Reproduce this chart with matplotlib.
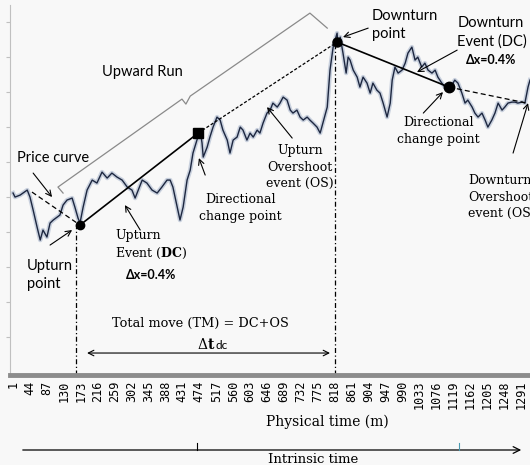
import numpy as np
import matplotlib
matplotlib.use('Agg')
import matplotlib.pyplot as plt

plt.rcParams['font.family'] = ['Lato', 'DejaVu Sans']
plt.rcParams['mathtext.fontset'] = 'dejavuserif'

# Fiyat egrisi (dakika, fiyat)
minutes = [1, 6, 19, 37, 44, 52, 62, 70, 77, 87,
           95, 103, 113, 120, 128, 138, 151, 158, 166, 171,
           179, 189, 202, 214, 227, 240, 252, 265, 278, 291,
           303, 311, 319, 329, 341, 354, 367, 379, 392, 400,
           407, 418, 425, 433, 443, 451, 458, 468, 476, 481,
           484, 494, 501, 509, 519, 527, 534, 545, 552, 560,
           570, 578, 585, 595, 603, 611, 621, 628, 636, 646,
           654, 661, 672, 679, 687, 697, 705, 712, 722, 730,
           738, 748, 755, 763, 773, 781, 788, 799, 806, 814,
           824, 826, 832, 839, 847, 852, 857, 865, 875, 882,
           890, 900, 908, 915, 925, 933, 941, 951, 959, 964,
           971, 979, 989, 997, 1004, 1014, 1022, 1029, 1039, 1047,
           1055, 1065, 1073, 1080, 1090, 1098, 1111, 1123, 1131, 1141,
           1149, 1156, 1167, 1174, 1182, 1192, 1200, 1207, 1217, 1225,
           1233, 1243, 1250, 1258, 1268, 1276, 1283, 1294, 1301, 1309,
           1314]
price = [182, 178, 180, 185, 178, 165, 148, 135, 145, 138,
         152, 155, 158, 160, 170, 175, 177, 168, 157, 152,
         168, 185, 195, 192, 203, 197, 202, 198, 195, 188,
         185, 177, 185, 195, 192, 185, 182, 188, 195, 195,
         188, 168, 155, 168, 195, 205, 222, 235, 245, 232,
         218, 228, 238, 248, 258, 255, 245, 235, 222, 235,
         238, 248, 245, 235, 242, 238, 245, 242, 252, 262,
         265, 272, 268, 272, 278, 275, 265, 262, 265, 258,
         255, 258, 255, 252, 248, 242, 252, 268, 305, 328,
         342, 332, 338, 322, 302, 318, 315, 305, 298, 288,
         298, 292, 282, 292, 285, 282, 272, 258, 272, 295,
         308, 302, 305, 312, 322, 328, 315, 318, 308, 312,
         305, 302, 305, 298, 292, 288, 287, 295, 292, 282,
         272, 275, 268, 262, 258, 262, 255, 248, 255, 262,
         272, 265, 268, 272, 273, 273, 272, 273, 272, 288,
         295]

# Olay noktalari
upturn_pt = (171, 150)
upturn_dc = (471, 242)
downturn_pt = (824, 333)
downturn_dc = (1108, 288)
prev_trend_start = (49, 183)
next_trend_end = (1306, 272)

# Eksen etiketleri
tick_labels = list(range(1, 1292, 43))

fig = plt.figure(figsize=(5.3, 4.65), dpi=100, facecolor='#f8f8f8')
ax = fig.add_axes([0.019, 0.1935, 0.981, 0.7955])
ax.set_facecolor('#f8f8f8')
ax.set_xlim(-6.6, 1314)
ax.set_ylim(0, 370)

# Fiyat egrisi (golgeli)
ax.plot(minutes, price, color='#a9b6cc', lw=3.2, alpha=0.6, solid_joinstyle='round')
ax.plot(minutes, price, color='#1d2740', lw=1.0)

# Trend cizgileri
k = 'black'
ax.plot([prev_trend_start[0], upturn_pt[0]], [prev_trend_start[1], upturn_pt[1]],
        color=k, lw=0.9, ls=(0, (4, 2.5)))
ax.plot([upturn_pt[0], upturn_dc[0]], [upturn_pt[1], upturn_dc[1]], color=k, lw=1.2)
ax.plot([upturn_dc[0], downturn_pt[0]], [upturn_dc[1], downturn_pt[1]],
        color=k, lw=0.9, ls=(0, (2.5, 1.5)))
ax.plot([downturn_pt[0], downturn_dc[0]], [downturn_pt[1], downturn_dc[1]], color=k, lw=1.2)
ax.plot([downturn_dc[0], next_trend_end[0]], [downturn_dc[1], next_trend_end[1]],
        color=k, lw=0.9, ls=(0, (4, 2.5)))

# Dikey kesikli cizgiler
ax.plot([160, 160], [0, upturn_pt[1]], color=k, lw=0.9, ls=(0, (4, 2, 1, 2)))
ax.plot([819, 819], [0, downturn_pt[1]], color=k, lw=0.9, ls=(0, (4, 2, 1, 2)))

# Noktalar
ax.plot(*upturn_pt, 'o', color=k, ms=6)
ax.plot(*upturn_dc, 's', color=k, ms=7)
ax.plot(*downturn_pt, 'o', color=k, ms=6.5)
ax.plot(*downturn_dc, 'o', color=k, ms=7.5)

# Upward Run parantezi
bx = [128, 115, 430, 440, 451, 755, 799]
by = [182, 188, 276, 271, 279, 362, 347]
ax.plot(bx, by, color='#8a8a8a', lw=0.9)

serif = 'DejaVu Serif'
arr = dict(arrowstyle='->', color=k, lw=0.8, shrinkA=0, shrinkB=0)

ax.text(329, 303, 'Upward Run', fontsize=10.5, ha='center', va='center')

ax.text(11, 217, 'Price curve', fontsize=10.5, ha='left', va='center')
ax.annotate('', xy=(100, 178), xytext=(52, 202), arrowprops=arr)

ax.text(37, 100, 'Upturn\npoint', fontsize=10.5, ha='left', va='center', linespacing=1.4)
ax.annotate('', xy=(151, 145), xytext=(95, 130), arrowprops=arr)

ax.text(260, 130, 'Upturn\nEvent ($\\mathbf{DC}$)', family=serif, fontsize=9,
        ha='left', va='center', linespacing=1.35)
ax.text(352, 100, '\u0394x=0.4%', fontsize=9, fontweight='bold', ha='center', va='center')
ax.annotate('', xy=(285, 170), xytext=(324, 145), arrowprops=arr)

ax.text(578, 167, 'Directional\nchange point', family=serif, fontsize=9,
        ha='center', va='center', linespacing=1.35)
ax.annotate('', xy=(473, 217), xytext=(489, 200), arrowprops=arr)

ax.text(730, 208, 'Upturn\nOvershoot\nevent (OS)', family=serif, fontsize=9,
        ha='center', va='center', linespacing=1.35)
ax.annotate('', xy=(646, 268), xytext=(710, 237), arrowprops=arr)

ax.text(476, 52, 'Total move (TM) = DC+OS', family=serif, fontsize=9.3,
        ha='center', va='center')
ax.text(514, 31, '\u0394$\\mathbf{t}$', family=serif, fontsize=10, ha='right', va='center')
ax.text(516, 30, 'dc', fontsize=8.5, ha='left', va='center')
ax.annotate('', xy=(189, 22), xytext=(806, 22),
            arrowprops=dict(arrowstyle='<->', color=k, lw=0.8, shrinkA=0, shrinkB=0))

ax.text(913, 350, 'Downturn\npoint', fontsize=10.5, ha='left', va='center', linespacing=1.4)
ax.annotate('', xy=(839, 338), xytext=(903, 347), arrowprops=arr)

ax.text(1129, 343, 'Downturn\nEvent (DC)', fontsize=10.5, ha='left', va='center', linespacing=1.4)
ax.text(1215, 315, '\u0394x=0.4%', fontsize=9, fontweight='bold', ha='center', va='center')
ax.annotate('', xy=(1027, 303), xytext=(1129, 325), arrowprops=arr)

ax.text(1081, 244, 'Directional\nchange point', family=serif, fontsize=9,
        ha='center', va='center', linespacing=1.35)
ax.annotate('', xy=(1093, 283), xytext=(1043, 262), arrowprops=arr)

ax.text(1157, 178, 'Downturn\nOvershoot\nevent (OS)', family=serif, fontsize=9,
        ha='left', va='center', linespacing=1.35, clip_on=True)
ax.annotate('', xy=(1309, 272), xytext=(1271, 222), arrowprops=arr)

# Eksenler
for s in ['top', 'right']:
    ax.spines[s].set_visible(False)
ax.spines['left'].set_color('#c0c0c0')
ax.spines['left'].set_linewidth(0.8)
ax.spines['bottom'].set_color('#8c8c8c')
ax.spines['bottom'].set_linewidth(3.5)
ax.set_yticks(np.arange(38, 370, 35))
ax.set_yticklabels([])
ax.tick_params(axis='y', length=3, color='#c0c0c0', width=0.8)
ax.set_xticks(tick_labels)
ax.set_xticklabels([str(v) for v in tick_labels], rotation=90,
                   family='DejaVu Sans Mono', fontsize=8.5)
ax.tick_params(axis='x', length=0, pad=4)

fig.text(327 / 530, 1 - 422 / 465, 'Physical time (m)', family=serif, fontsize=10,
         ha='center', va='center')

# Icsel zaman oku
fig.add_artist(matplotlib.patches.FancyArrowPatch(
    (20 / 530, 1 - 450 / 465), (524 / 530, 1 - 450 / 465), transform=fig.transFigure,
    arrowstyle='->', mutation_scale=12, color=k, lw=0.9))
fig.add_artist(matplotlib.lines.Line2D([197 / 530] * 2, [1 - 450 / 465, 1 - 443 / 465],
                                       transform=fig.transFigure, color=k, lw=0.8))
fig.add_artist(matplotlib.lines.Line2D([459 / 530] * 2, [1 - 450 / 465, 1 - 443 / 465],
                                       transform=fig.transFigure, color='#4a9ab0', lw=0.8))
fig.text(313 / 530, 1 - 459 / 465, 'Intrinsic time', family=serif, fontsize=9.5,
         ha='center', va='center')

plt.savefig('out.png', dpi=100, facecolor=fig.get_facecolor())
